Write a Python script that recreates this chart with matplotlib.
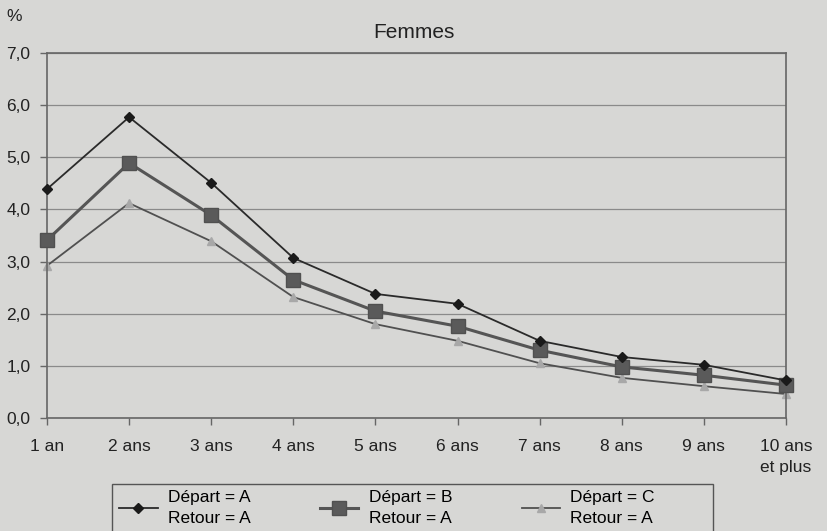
import matplotlib
matplotlib.use("Agg")
import matplotlib.pyplot as plt
from matplotlib.patches import Rectangle

plt.rcParams['font.family'] = ['Liberation Sans', 'DejaVu Sans']

categories = ["1 an", "2 ans", "3 ans", "4 ans", "5 ans", "6 ans",
              "7 ans", "8 ans", "9 ans", "10 ans\net plus"]
depart_a = [4.39, 5.77, 4.51, 3.07, 2.38, 2.19, 1.48, 1.17, 1.02, 0.72]
depart_b = [3.41, 4.89, 3.89, 2.65, 2.05, 1.76, 1.30, 0.98, 0.82, 0.63]
depart_c = [2.92, 4.12, 3.39, 2.32, 1.80, 1.48, 1.05, 0.77, 0.61, 0.46]
labels = ["Départ = A\nRetour = A", "Départ = B\nRetour = A", "Départ = C\nRetour = A"]
yticks = [0, 1, 2, 3, 4, 5, 6, 7]

bg = "#d7d7d5"
fig = plt.figure(figsize=(8.27, 5.31), dpi=100, facecolor=bg)
ax = fig.add_axes([0.0568, 0.2128, 0.8936, 0.6874], facecolor=bg)

x = list(range(len(categories)))
ax.plot(x, depart_a, color="#2a2a2a", lw=1.3, marker="D", ms=5,
        mfc="#1a1a1a", mec="#1a1a1a", label=labels[0], zorder=4, clip_on=False)
ax.plot(x, depart_b, color="#555555", lw=2.2, marker="s", ms=10,
        mfc="#5a5a5a", mec="#505050", label=labels[1], zorder=3, clip_on=False)
ax.plot(x, depart_c, color="#505050", lw=1.3, marker="^", ms=6,
        mfc="#a8a8a8", mec="#a8a8a8", label=labels[2], zorder=2, clip_on=False)

ax.set_xlim(0, len(categories) - 1)
ax.set_ylim(0, 7)
ax.set_yticks(yticks)
ax.set_yticklabels([f"{v:.1f}".replace(".", ",") for v in yticks])
ax.set_xticks(x)
ax.set_xticklabels(categories, linespacing=1.5)
ax.yaxis.grid(True, color="#8a8a8a", lw=0.9)
ax.set_axisbelow(True)
for s in ax.spines.values():
    s.set_color("#666666")
    s.set_linewidth(1.2)
ax.tick_params(axis="both", labelsize=12.5, colors="#666666", labelcolor="#222222",
               length=5, width=1)
ax.tick_params(axis="x", pad=10)
ax.tick_params(axis="y", pad=7)

fig.text(0.5, 0.938, "Femmes", fontsize=15, ha="center", va="center", color="#222222")
fig.text(0.017, 0.968, "%", fontsize=12.5, ha="center", va="center", color="#222222")

# legend box drawn separately so it can be wider than its entries
fig.add_artist(Rectangle((0.1354, -0.02), 0.7267, 0.0885 + 0.02, transform=fig.transFigure,
                         fill=False, edgecolor="#555555", lw=1.0, clip_on=False))
leg = fig.legend(loc="upper left", bbox_to_anchor=(0.137, 0.0885), ncol=3,
                 fontsize=12.5, frameon=False, handlelength=2.2, borderaxespad=0,
                 columnspacing=4.0, handletextpad=0.6, borderpad=0.35)
for t in leg.get_texts():
    t.set_linespacing(1.5)

fig.savefig("out.png", dpi=100, facecolor=bg)
